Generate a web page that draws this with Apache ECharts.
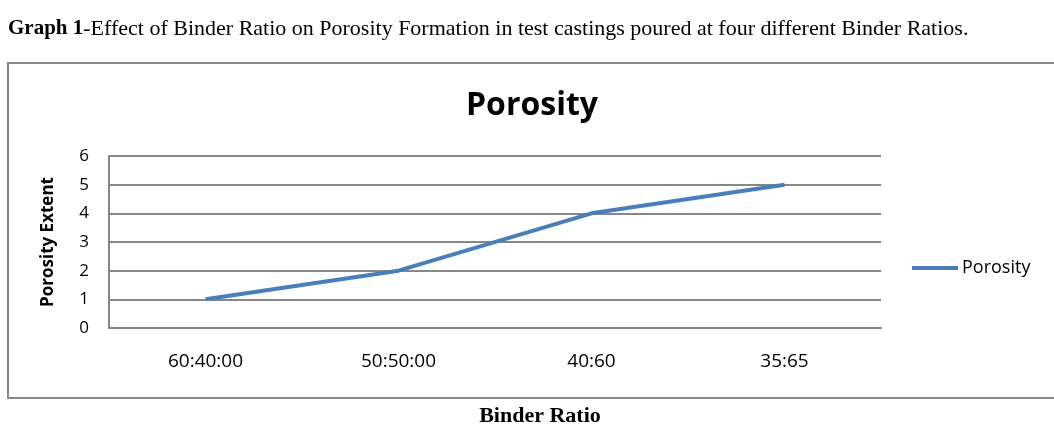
<!DOCTYPE html>
<html><head><meta charset="utf-8">
<script src="https://cdn.jsdelivr.net/npm/echarts@6/dist/echarts.min.js"></script>
<style>html,body{margin:0;padding:0;background:#fff}#c{width:1054px;height:439px}</style>
</head><body><div id="c"></div>
<script>
const categories = ['60:40:00', '50:50:00', '40:60', '35:65'];
const porosity = [1, 2, 4, 5];
const seriesName = 'Porosity';
const chartTitle = 'Porosity';
const yAxisName = 'Porosity Extent';
const xAxisName = 'Binder Ratio';
const captionBold = 'Graph 1';
const captionRest = '-Effect of Binder Ratio on Porosity Formation in test castings poured at four different Binder Ratios.';

const chart = echarts.init(document.getElementById('c'), null, {renderer: 'canvas'});
const sans = '"Open Sans", "Noto Sans", sans-serif';
const serif = '"Liberation Serif", "DejaVu Serif", serif';
chart.setOption({
  animation: false,
  backgroundColor: '#fff',
  title: [
    {text: chartTitle, left: 527, top: 85, textAlign: 'center',
     textStyle: {fontFamily: sans, fontSize: 32, fontWeight: 'bold', color: '#000'}},
    {text: '{b|' + captionBold + '}{r|' + captionRest + '}', left: 3, top: 13,
     textStyle: {fontWeight: 'normal', rich: {
       b: {fontFamily: serif, fontSize: 21, fontWeight: 'bold', color: '#000'},
       r: {fontFamily: serif, fontSize: 22, fontWeight: 'normal', color: '#000'}}}},
    {text: xAxisName, left: 535, top: 400, textAlign: 'center',
     textStyle: {fontFamily: serif, fontSize: 22, fontWeight: 'bold', color: '#000'}}
  ],
  graphic: [
    {type: 'rect', shape: {x: 8, y: 63, width: 1060, height: 335},
     style: {fill: 'none', stroke: '#868686', lineWidth: 2}, silent: true}
  ],
  legend: {
    orient: 'vertical', left: 907, top: 254, itemWidth: 46, itemHeight: 4, itemGap: 4,
    icon: 'rect',
    textStyle: {fontFamily: sans, fontSize: 18, color: '#000', padding: [0, 0, 0, -1]},
    data: [seriesName]
  },
  grid: {left: 109, right: 1054 - 881, top: 156, bottom: 439 - 328, containLabel: false},
  xAxis: {
    type: 'category', data: categories, boundaryGap: true,
    axisLine: {show: true, lineStyle: {color: '#868686', width: 2}},
    axisTick: {show: false},
    axisLabel: {fontFamily: sans, fontSize: 19, color: '#000', margin: 24}
  },
  yAxis: {
    type: 'value', min: 0, max: 6, interval: 1,
    name: yAxisName, nameLocation: 'middle', nameGap: 52, nameRotate: 90,
    nameTextStyle: {fontFamily: sans, fontSize: 17, fontWeight: 'bold', color: '#000'},
    axisLine: {show: true, lineStyle: {color: '#868686', width: 2}},
    axisTick: {show: false},
    axisLabel: {fontFamily: sans, fontSize: 17, color: '#000', margin: 20},
    splitLine: {show: true, lineStyle: {color: '#868686', width: 2}}
  },
  series: [{
    name: seriesName, type: 'line', data: porosity,
    symbol: 'none', lineStyle: {color: '#4a7ebb', width: 4}, itemStyle: {color: '#4a7ebb'}
  }]
});
</script></body></html>
